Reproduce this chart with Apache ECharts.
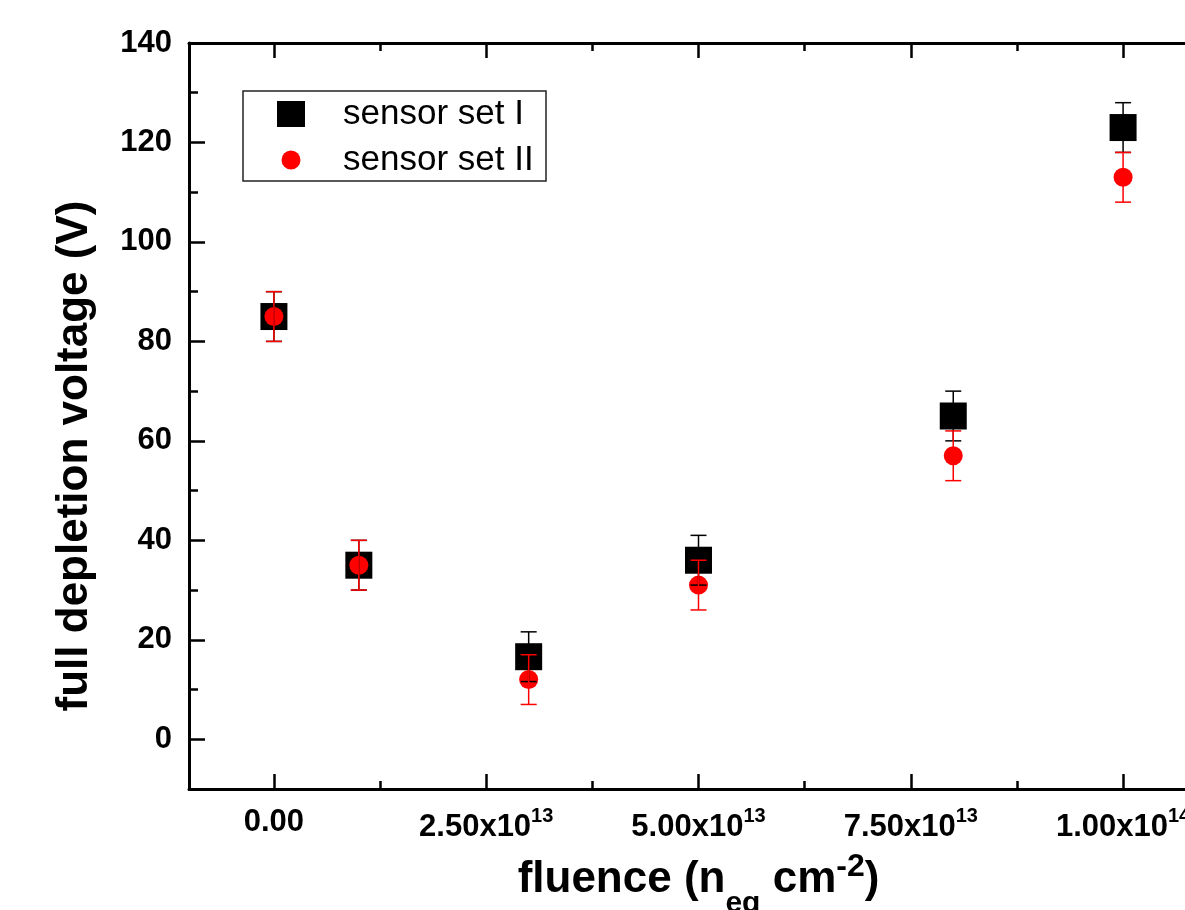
<!DOCTYPE html>
<html>
<head>
<meta charset="utf-8">
<title>Full depletion voltage vs fluence</title>
<script src="https://cdn.jsdelivr.net/npm/echarts@6/dist/echarts.min.js"></script>
<style>
  html, body { margin: 0; padding: 0; background: #fff; overflow: hidden; }
  #chart { width: 1230px; height: 910px; }
</style>
</head>
<body>
<div id="chart"></div>
<script>
// Measured points (fluence in n_eq cm^-2, voltage in V)
const fluence = [0, 1e13, 3e13, 5e13, 8e13, 1e14];
const setI = [85, 35, 16.6, 36, 65, 123];
const setII = [85, 35, 12, 31, 57, 113];
const errI = [5, 5, 5, 5, 5, 5];
const errII = [5, 5, 5, 5, 5, 5];

// Axis ranges and ticks
const xRange = [-1e13, 1.1e14];
const yRange = [-10, 140];
const xMajorTicks = [0, 2.5e13, 5e13, 7.5e13, 1e14];
const xMinorTicks = [1.25e13, 3.75e13, 6.25e13, 8.75e13];
const xTickMantissa = ['0.00', '2.50', '5.00', '7.50', '1.00'];
const xTickExponent = ['', '13', '13', '13', '14'];
const yMajorTicks = [0, 20, 40, 60, 80, 100, 120, 140];
const yMinorTicks = [-10, 10, 30, 50, 70, 90, 110, 130];

const FONT = 'Liberation Sans, Arial, Helvetica, sans-serif';

const chart = echarts.init(document.getElementById('chart'), null, { renderer: 'canvas' });

function xTickLabel(value) {
  const i = xMajorTicks.findIndex(t => Math.abs(t - value) < 1e6);
  if (i < 0) return '';
  if (!xTickExponent[i]) return '{z|' + xTickMantissa[i] + '}';
  return '{m|' + xTickMantissa[i] + 'x10}{s|' + xTickExponent[i] + '}';
}

const axisLineStyle = { color: '#000', width: 3 };
const majorTick = { color: '#000', width: 2.5 };
const minorTick = { color: '#000', width: 2.5 };

function xAxisBase(position) {
  return {
    type: 'value', position: position, min: xRange[0], max: xRange[1],
    splitLine: { show: false },
    axisLine: { show: true, onZero: false, lineStyle: axisLineStyle },
    nameMoveOverlap: false
  };
}
function yAxisBase(position) {
  return {
    type: 'value', position: position, min: yRange[0], max: yRange[1],
    splitLine: { show: false },
    axisLine: { show: true, onZero: false, lineStyle: axisLineStyle },
    nameMoveOverlap: false
  };
}

const boldText = { fontWeight: 'bold', fontFamily: FONT, color: '#000' };

const xAxes = [
  Object.assign(xAxisBase('bottom'), {
    axisTick: { show: true, inside: true, length: 15, lineStyle: majorTick, customValues: xMajorTicks },
    axisLabel: {
      show: true, margin: 17, customValues: xMajorTicks, formatter: xTickLabel,
      color: '#000', fontFamily: FONT,
      rich: {
        z: Object.assign({ fontSize: 31, lineHeight: 33 }, boldText),
        m: Object.assign({ fontSize: 31, lineHeight: 33 }, boldText),
        s: Object.assign({ fontSize: 20, height: 20, lineHeight: 43, verticalAlign: 'top' }, boldText)
      }
    },
    name: '{a|fluence (n}{b|eq}{a| cm}{c|-2}{a|)}',
    nameLocation: 'middle',
    nameGap: 41,
    nameTextStyle: {
      rich: {
        a: Object.assign({ fontSize: 44, lineHeight: 100 }, boldText),
        b: Object.assign({ fontSize: 30, height: 52, lineHeight: 52, verticalAlign: 'bottom' }, boldText),
        c: Object.assign({ fontSize: 32, height: 74, lineHeight: 74, verticalAlign: 'top' }, boldText)
      }
    }
  }),
  Object.assign(xAxisBase('bottom'), {
    axisLine: { show: false, onZero: false },
    axisTick: { show: true, inside: true, length: 8, lineStyle: minorTick, customValues: xMinorTicks },
    axisLabel: { show: false }
  }),
  Object.assign(xAxisBase('top'), {
    axisTick: { show: true, inside: true, length: 15, lineStyle: majorTick, customValues: xMajorTicks },
    axisLabel: { show: false }
  }),
  Object.assign(xAxisBase('top'), {
    axisLine: { show: false, onZero: false },
    axisTick: { show: true, inside: true, length: 8, lineStyle: minorTick, customValues: xMinorTicks },
    axisLabel: { show: false }
  })
];

const yAxes = [
  Object.assign(yAxisBase('left'), {
    axisTick: { show: true, inside: true, length: 16, lineStyle: majorTick, customValues: yMajorTicks },
    axisLabel: Object.assign({ show: true, margin: 17, customValues: yMajorTicks, fontSize: 31 }, boldText)
  }),
  Object.assign(yAxisBase('left'), {
    axisLine: { show: false, onZero: false },
    axisTick: { show: true, inside: true, length: 9, lineStyle: minorTick, customValues: yMinorTicks },
    axisLabel: { show: false }
  }),
  Object.assign(yAxisBase('right'), {
    axisTick: { show: true, inside: true, length: 16, lineStyle: majorTick, customValues: yMajorTicks },
    axisLabel: { show: false }
  })
];

function errorBarSeries(name, values, errors, color, z) {
  const data = fluence.map((x, i) => [x, values[i] - errors[i], values[i] + errors[i]]);
  return {
    name: name,
    type: 'custom',
    xAxisIndex: 0,
    yAxisIndex: 0,
    z: z,
    silent: true,
    data: data,
    encode: { x: 0, y: [1, 2] },
    renderItem: function (params, api) {
      const lo = api.coord([api.value(0), api.value(1)]);
      const hi = api.coord([api.value(0), api.value(2)]);
      const half = 8;
      const style = { stroke: color, lineWidth: 1.5 };
      return {
        type: 'group',
        children: [
          { type: 'line', shape: { x1: lo[0], y1: lo[1], x2: hi[0], y2: hi[1] }, style: style },
          { type: 'line', shape: { x1: lo[0] - half, y1: lo[1], x2: lo[0] + half, y2: lo[1] }, style: style },
          { type: 'line', shape: { x1: hi[0] - half, y1: hi[1], x2: hi[0] + half, y2: hi[1] }, style: style }
        ]
      };
    }
  };
}

// Legend icons: a filled square and a smaller circle inside the same 28x26 box
const squareIcon = 'path://M0 0h28v26h-28z';
const circleIcon = 'path://M0 0M28 26M4.5 13a9.5 9.5 0 1 0 19 0a9.5 9.5 0 1 0 -19 0z';

const option = {
  backgroundColor: '#fff',
  animation: false,
  grid: {
    left: 189, top: 43, right: 22, bottom: 121,
    containLabel: false,
    outerBoundsMode: 'none'
  },
  xAxis: xAxes,
  yAxis: yAxes,
  legend: {
    data: [
      { name: 'sensor set I', icon: squareIcon },
      { name: 'sensor set II', icon: circleIcon }
    ],
    orient: 'vertical', left: 277, top: 96, padding: 0, itemGap: 10,
    itemWidth: 94, itemHeight: 26, symbolKeepAspect: true, selectedMode: false,
    textStyle: { fontSize: 35, fontFamily: FONT, color: '#000', lineHeight: 36 }
  },
  graphic: [
    {
      type: 'rect', z: 100,
      shape: { x: 243, y: 91, width: 303, height: 90 },
      style: { fill: 'none', stroke: '#222', lineWidth: 1.5 }
    },
    {
      type: 'text', x: 75, y: 456, rotation: Math.PI / 2,
      style: {
        text: 'full depletion voltage (V)', fontSize: 44, fontWeight: 'bold',
        fontFamily: FONT, fill: '#000', align: 'center', verticalAlign: 'middle'
      }
    }
  ],
  series: [
    {
      name: 'sensor set I', type: 'scatter', xAxisIndex: 0, yAxisIndex: 0, z: 2,
      symbol: 'rect', symbolSize: 27,
      itemStyle: { color: '#000', opacity: 1 },
      data: fluence.map((x, i) => [x, setI[i]])
    },
    {
      name: 'sensor set II', type: 'scatter', xAxisIndex: 0, yAxisIndex: 0, z: 3,
      symbol: 'circle', symbolSize: 19,
      itemStyle: { color: '#ff0000', opacity: 1 },
      data: fluence.map((x, i) => [x, setII[i]])
    },
    errorBarSeries('sensor set I error', setI, errI, '#000', 4),
    errorBarSeries('sensor set II error', setII, errII, '#ff0000', 5)
  ]
};

chart.setOption(option);
</script>
</body>
</html>
